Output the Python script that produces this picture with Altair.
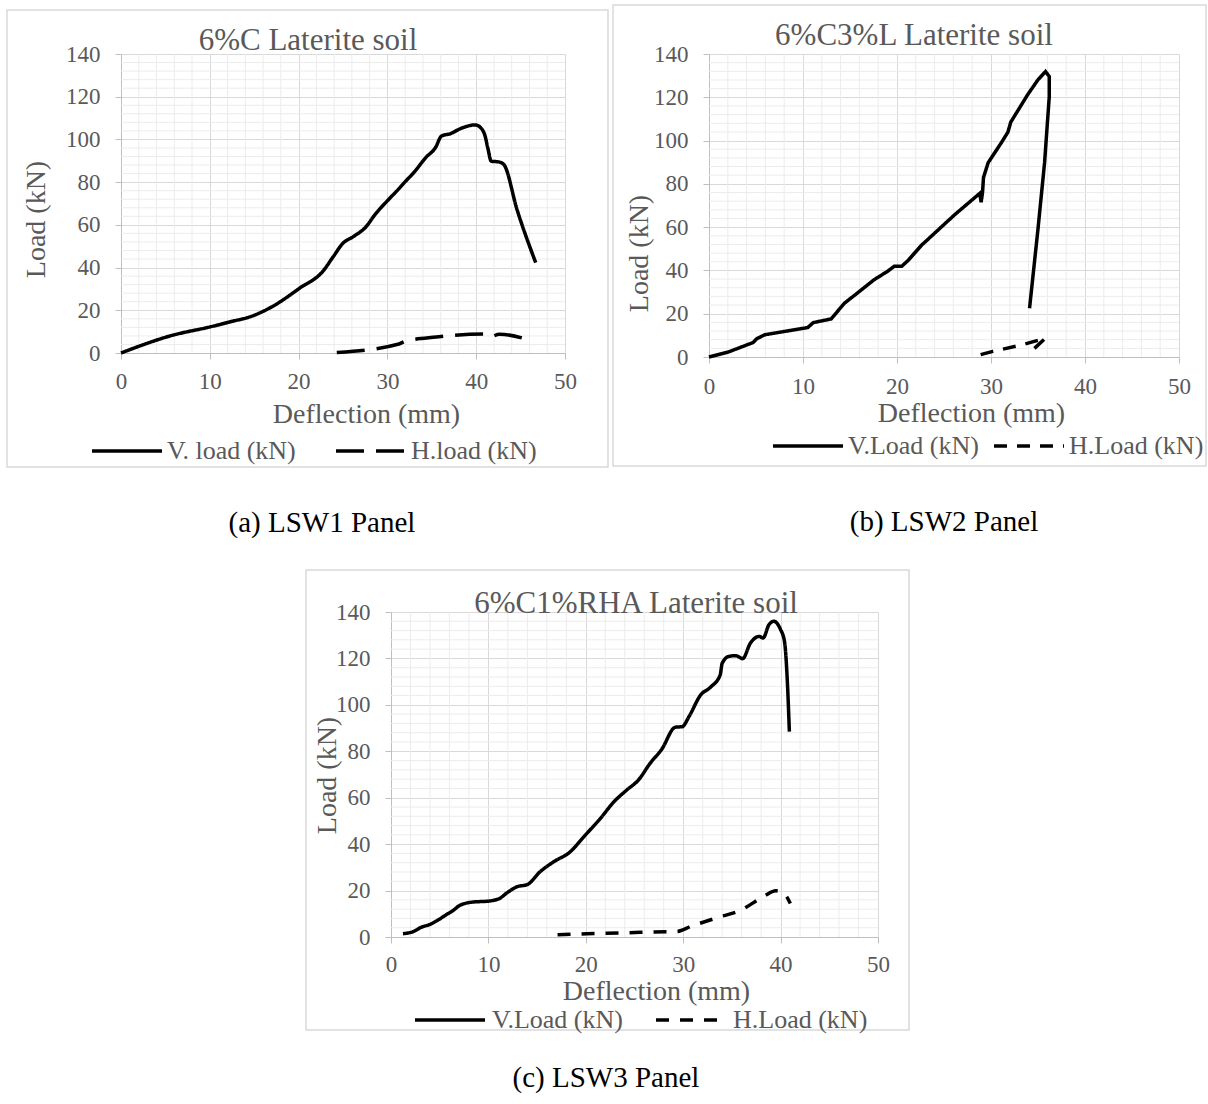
import altair as alt
import pandas as pd

FONT = "Liberation Serif"
GRAY_TXT = "#595959"

# ---------------- data ----------------
# (a) 6%C Laterite soil
a_v_x = [0, 5.8, 10.0, 12.6, 14.5, 17.1, 20.1, 22.8, 23.9, 25.0, 26.2, 27.7, 28.4, 30.3, 31.2, 31.8,
         33.1, 34.3, 35.4, 36.1, 37.1, 38.2, 39.9, 40.5, 41.0, 41.3, 41.7, 42.5, 43.1, 44.6, 46.7]
a_v_y = [0, 8.3, 12.2, 14.9, 16.9, 21.9, 30.3, 38.6, 45.1, 51.4, 54.6, 59.6, 63.7, 72.6, 76.5, 79.3,
         85.1, 91.4, 96.1, 101.6, 102.7, 105.0, 106.8, 105.5, 101.6, 96.1, 89.8, 89.5, 88.3, 67.1, 42.3]
a_h_x = [24.3, 31.3, 32.0, 35.5, 40.8, 41.6, 42.6, 46.3]
a_h_y = [0.2, 4.2, 5.5, 7.5, 8.9, 7.6, 8.8, 5.6]

# (b) 6%C3%L Laterite soil
b_v_x = [0, 2.05, 4.7, 5.06, 5.95, 10.5, 11.1, 13.0, 13.5, 14.4, 17.6, 19.0, 19.7, 20.5, 21.2, 22.6,
         24.0, 26.1, 28.8, 28.95, 29.1, 29.2, 29.7, 31.1, 31.8, 32.1, 33.9, 35.0, 35.8, 36.2, 36.2,
         35.7, 35.0, 34.1]
b_v_y = [0, 2.3, 6.7, 8.4, 10.3, 13.6, 15.9, 17.6, 20.2, 24.8, 35.8, 39.6, 41.9, 41.9, 44.7, 51.6,
         57.2, 65.6, 75.6, 71.5, 76.1, 82.9, 89.8, 99.0, 103.9, 108.5, 121.2, 128.1, 131.9, 129.6, 120.4,
         89.8, 59.2, 22.5]
b_h_x = [28.9, 30.2, 33.1, 35.8, 34.2]
b_h_y = [1.1, 2.6, 5.4, 8.7, 2.3]

# (c) 6%C1%RHA Laterite soil
c_v_x = [1.23, 2.33, 3.0, 4.04, 4.9, 5.6, 6.3, 7.1, 8.5, 9.86, 11.1, 11.9, 12.9, 14.0, 15.3, 16.7,
         18.4, 19.8, 21.5, 22.9, 24.2, 25.4, 26.6, 27.8, 29.2, 29.9, 30.6, 31.8, 32.8, 33.8, 34.0,
         34.7, 35.4, 36.1, 36.9, 37.8, 38.2, 38.8, 39.3, 40.0, 40.4, 40.7, 40.9]
c_v_y = [1.44, 2.4, 4.0, 5.5, 7.5, 9.4, 11.2, 13.7, 15.1, 15.4, 16.5, 19.0, 21.6, 22.6, 28.1, 32.4,
         36.7, 43.2, 51.1, 58.3, 63.3, 67.6, 74.8, 80.9, 90.4, 90.6, 95.0, 104.3, 107.6, 112.9, 117.9,
         120.9, 121.2, 119.9, 126.6, 129.5, 128.8, 134.5, 136.0, 132.4, 127.3, 109.4, 88.5]
c_h_x = [17.1, 20.1, 25.6, 29.4, 30.8, 33.5, 35.9, 38.3, 39.5, 40.5, 41.0]
c_h_y = [1.0, 1.4, 2.0, 2.4, 4.6, 8.3, 11.5, 17.6, 19.9, 18.0, 14.4]

titles = ["6%C Laterite soil", "6%C3%L Laterite soil", "6%C1%RHA Laterite soil"]
captions = ["(a)  LSW1 Panel", "(b) LSW2 Panel", "(c) LSW3 Panel"]
v_names = ["V. load (kN)", "V.Load (kN)", "V.Load (kN)"]
h_names = ["H.load (kN)", "H.Load (kN)", "H.Load (kN)"]
x_title = "Deflection (mm)"
y_title = "Load (kN)"

x_ticks = [0, 10, 20, 30, 40, 50]
y_ticks = [0, 20, 40, 60, 80, 100, 120, 140]
minor_x = [v for v in range(0, 51, 2) if v % 10]
minor_y = [v for v in range(0, 141, 4) if v % 20]


def make_panel(k, vx, vy, hx, hy, lay):
    w, h = lay["w"], lay["h"]
    rows = []
    for i, (x, y) in enumerate(zip(vx, vy)):
        rows.append({"d": x, "load": y, "series": v_names[k], "i": i})
    for i, (x, y) in enumerate(zip(hx, hy)):
        rows.append({"d": x, "load": y, "series": h_names[k], "i": i})
    df = pd.DataFrame(rows)

    xs = alt.Scale(domain=[0, 50], nice=False, zero=False)
    ys = alt.Scale(domain=[0, 140], nice=False, zero=False)

    xaxis = alt.Axis(values=x_ticks, grid=True, gridColor="#d9d9d9", domainColor="#bfbfbf",
                     tickColor="#bfbfbf", tickSize=6, labelFont=FONT, labelFontSize=23,
                     labelColor=GRAY_TXT, labelPadding=lay["xlp"], title=x_title,
                     titleFont=FONT, titleFontSize=28, titleFontWeight="normal",
                     titleColor=GRAY_TXT, titleX=lay["xtx"], titleY=lay["xty"],
                     titleBaseline="alphabetic", titleAlign="center", labelFlush=False)
    yaxis = alt.Axis(values=y_ticks, grid=True, gridColor="#d9d9d9", domainColor="#bfbfbf",
                     tickColor="#bfbfbf", tickSize=6, labelFont=FONT, labelFontSize=23,
                     labelColor=GRAY_TXT, labelPadding=15, title=y_title,
                     titleFont=FONT, titleFontSize=28, titleFontWeight="normal",
                     titleColor=GRAY_TXT, titleX=lay["ytx"], titleY=lay["yty"],
                     titleBaseline="middle", titleAlign="center", titleAngle=270,
                     labelFlush=False)

    minor_v = alt.Chart(pd.DataFrame({"v": minor_x})).mark_rule(
        color="#ececec", strokeWidth=1).encode(x=alt.X("v:Q", scale=xs, axis=xaxis))
    minor_h = alt.Chart(pd.DataFrame({"v": minor_y})).mark_rule(
        color="#ececec", strokeWidth=1).encode(y=alt.Y("v:Q", scale=ys, axis=yaxis))

    legend = alt.Legend(orient="none", legendX=lay["lx"], legendY=lay["ly"], direction="horizontal",
                        title=None, symbolType="stroke", symbolSize=4900, symbolStrokeWidth=3.5,
                        symbolStrokeColor="black", labelFont=FONT, labelFontSize=lay["lfs"],
                        labelColor=GRAY_TXT, labelOffset=lay["lo"], columnPadding=lay["cp"],
                        padding=0, labelLimit=300)

    lines = alt.Chart(df).mark_line(color="black", strokeWidth=3.5, interpolate=lay["interp"],
                                    strokeCap="butt").encode(
        x=alt.X("d:Q", scale=xs, axis=xaxis),
        y=alt.Y("load:Q", scale=ys, axis=yaxis),
        strokeDash=alt.StrokeDash("series:N",
                                  scale=alt.Scale(domain=[v_names[k], h_names[k]],
                                                  range=[[1, 0], lay["dash"]]),
                                  legend=legend),
        order=alt.Order("i:Q"),
    )

    title_t = alt.Chart(pd.DataFrame({"t": [titles[k]]})).mark_text(
        font=FONT, fontSize=31, color=GRAY_TXT, align="center", baseline="alphabetic").encode(
        text="t:N", x=alt.value(lay["tx"]), y=alt.value(lay["ty"]))
    cap_t = alt.Chart(pd.DataFrame({"t": [captions[k]]})).mark_text(
        font=FONT, fontSize=29, color="black", align="center", baseline="alphabetic").encode(
        text="t:N", x=alt.value(lay["cx"]), y=alt.value(lay["cy"]))
    border = alt.Chart(pd.DataFrame({"b": [0]})).mark_rect(
        fill="transparent", stroke="#d9d9d9", strokeWidth=1.5).encode(
        x=alt.value(lay["bx"]), x2=alt.value(w + lay["bx2"]),
        y=alt.value(lay["by"]), y2=alt.value(h + lay["by2"]))

    return alt.layer(minor_v, minor_h, lines, title_t, cap_t, border).properties(width=w, height=h)


lay_a = dict(w=444, h=299, xlp=11, xtx=245, xty=69, ytx=-85, yty=165,
             lx=-31, ly=360, lo=3, cp=33, lfs=26, dash=[28, 12], interp="monotone",
             tx=187, ty=-4, cx=201, cy=478, bx=-114, bx2=43, by=-44, by2=114)
lay_b = dict(w=470, h=303, xlp=12, xtx=262, xty=64, ytx=-70, yty=199,
             lx=62, ly=355, lo=3, cp=8, lfs=26, dash=[13, 10], interp="linear",
             tx=205, ty=-9, cx=235, cy=477, bx=-96, bx2=27, by=-49, by2=109)
lay_c = dict(w=487, h=325, xlp=10, xtx=265, xty=62, ytx=-64, yty=163,
             lx=22, ly=371, lo=5, cp=26, lfs=26, dash=[13, 11], interp="monotone",
             tx=245, ty=1, cx=215, cy=475, bx=-85, bx2=31, by=-42, by2=93)

p1 = make_panel(0, a_v_x, a_v_y, a_h_x, a_h_y, lay_a)
p2 = make_panel(1, b_v_x, b_v_y, b_h_x, b_h_y, lay_b)
p3 = make_panel(2, c_v_x, c_v_y, c_h_x, c_h_y, lay_c)

SPACER_W = 184
spacer = alt.Chart(pd.DataFrame({"s": [0]})).mark_rect(opacity=0).encode(
    x=alt.value(0), x2=alt.value(SPACER_W), y=alt.value(0), y2=alt.value(1)
).properties(width=SPACER_W, height=1)

top = alt.hconcat(p1, p2, spacing=3).resolve_scale(
    x="independent", y="independent", strokeDash="independent").resolve_legend(
    strokeDash="independent")
bottom = alt.hconcat(spacer, p3, spacing=0).resolve_scale(
    x="independent", y="independent", strokeDash="independent").resolve_legend(
    strokeDash="independent")

chart = alt.vconcat(top, bottom, spacing=31).resolve_scale(
    x="independent", y="independent", strokeDash="independent").resolve_legend(
    strokeDash="independent").properties(
    padding={"left": 6, "top": 4, "right": 0, "bottom": 0}, background="white"
).configure_view(stroke=None)

chart.save("out.html", embed_options={"renderer": "svg", "actions": False})
